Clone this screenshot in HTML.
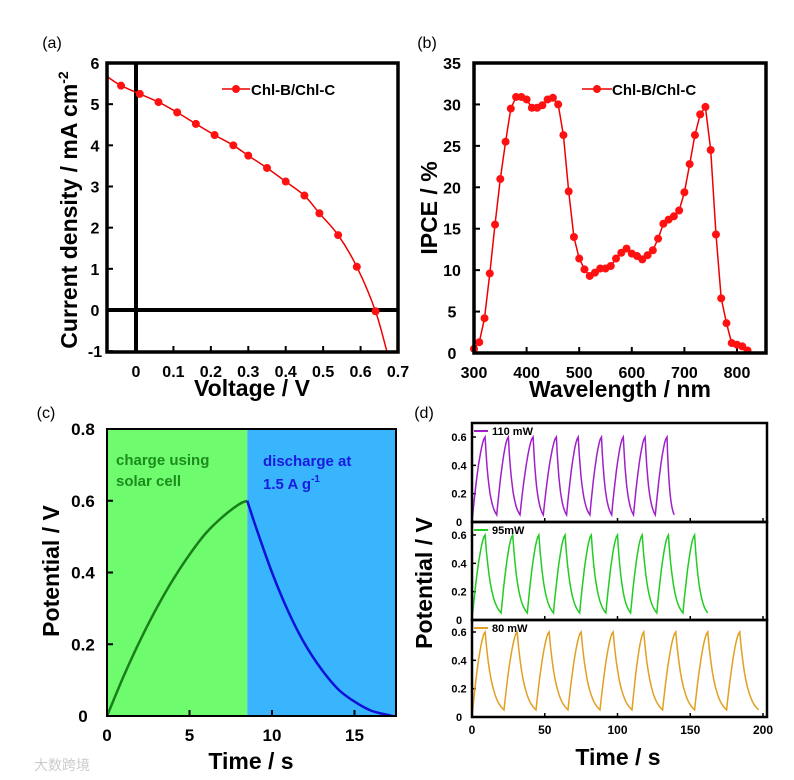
<!DOCTYPE html>
<html><head><meta charset="utf-8"><style>
body{margin:0;background:#fff;width:794px;height:780px;overflow:hidden}
svg{display:block;font-family:"Liberation Sans",Arial,sans-serif;font-weight:bold}
</style></head><body>
<svg id="fig" width="794" height="780" viewBox="0 0 794 780"></svg>
<script>
// ---- panel (a) data ----
const jvV=[-0.04,0.01,0.06,0.11,0.16,0.21,0.26,0.30,0.35,0.40,0.45,0.49,0.54,0.59,0.64];
const jvJ=[5.45,5.25,5.05,4.8,4.52,4.25,4.0,3.75,3.45,3.12,2.78,2.35,1.82,1.05,-0.03];
const jvTicksX=[0,0.1,0.2,0.3,0.4,0.5,0.6,0.7];
const jvTicksY=[-1,0,1,2,3,4,5,6];
// ---- panel (b) data ----
const wl=[300,310,320,330,340,350,360,370,380,390,400,410,420,430,440,450,460,470,480,490,500,510,520,530,540,550,560,570,580,590,600,610,620,630,640,650,660,670,680,690,700,710,720,730,740,750,760,770,780,790,800,810,820];
const ipce=[0.5,1.3,4.2,9.6,15.5,21,25.5,29.5,30.9,30.9,30.6,29.6,29.6,29.9,30.6,30.8,30,26.3,19.5,14,11.4,10.1,9.3,9.7,10.2,10.2,10.5,11.4,12.1,12.6,12,11.7,11.3,11.8,12.4,13.8,15.6,16.1,16.5,17.2,19.4,22.8,26.3,28.8,29.7,24.5,14.3,6.6,3.6,1.2,1.0,0.8,0.3];
const ipceTicksX=[300,400,500,600,700,800];
const ipceTicksY=[0,5,10,15,20,25,30,35];
// ---- panel (c) data ----
const chT=[0,1,2,3,4,5,6,7,8,8.5];
const chV=[0,0.11,0.21,0.30,0.38,0.45,0.51,0.555,0.59,0.60];
const dcT=[8.5,9,10,11,12,13,14,15,16,17,17.3];
const dcV=[0.6,0.53,0.40,0.29,0.20,0.13,0.075,0.04,0.015,0.003,0];
const cTicksX=[0,5,10,15];
const cTicksY=[0,0.2,0.4,0.6,0.8];
// ---- panel (d) data ----
const dLabels=["110 mW","95mW","80 mW"];
const dPeaks110=[9,25,42,58,73,89,104,119,134];
const dTroughs110=[17,33,49,65,81,96,111,126,139];
const dPeaks95=[9,28,46,64,82,100,117,135,153];
const dTroughs95=[20,38,56,74,92,109,127,145,162];
const dPeaks80=[9,31,53,75,97,118,140,162,184];
const dTroughs80=[22,44,66,88,110,131,153,175,197];
const dPeakV=0.6, dTroughV=0.05;
const dTicksX=[0,50,100,150,200];
const dTicksY=[0,0.2,0.4,0.6];

const NS="http://www.w3.org/2000/svg",svg=document.getElementById('fig');
function el(t,a,p){const e=document.createElementNS(NS,t);for(const k in a)e.setAttribute(k,a[k]);(p||svg).appendChild(e);return e;}
function txt(s,x,y,size,extra,p){const e=el('text',Object.assign({x:x,y:y,'font-size':size,'text-anchor':'middle'},extra||{}),p);e.textContent=s;return e;}
function lin(d0,d1,r0,r1){return v=>r0+(v-d0)/(d1-d0)*(r1-r0);}
function path(xs,ys,X,Y){return xs.map((v,i)=>(i?'L':'M')+X(v).toFixed(1)+','+Y(ys[i]).toFixed(1)).join('');}
function smooth(xs,ys,X,Y){const P=xs.map((v,i)=>[X(v),Y(ys[i])]);let d='M'+P[0][0].toFixed(1)+','+P[0][1].toFixed(1);
 for(let i=0;i<P.length-1;i++){const p0=P[i-1]||P[i],p1=P[i],p2=P[i+1],p3=P[i+2]||p2;
  const c1=[p1[0]+(p2[0]-p0[0])/6,p1[1]+(p2[1]-p0[1])/6],c2=[p2[0]-(p3[0]-p1[0])/6,p2[1]-(p3[1]-p1[1])/6];
  d+='C'+c1.map(n=>n.toFixed(1))+' '+c2.map(n=>n.toFixed(1))+' '+p2.map(n=>n.toFixed(1));}return d;}

// ===== (a) =====
{const g=el('g',{});
const L=107,R=398,T=63,B=352;const X=lin(0,0.7,136,398),Y=lin(0,6,310,63);
const cp=el('clipPath',{id:'ca'},g);el('rect',{x:L,y:T,width:R-L,height:B-T},cp);
jvTicksX.forEach(v=>{el('line',{x1:X(v),x2:X(v),y1:B,y2:B-6,stroke:'#000','stroke-width':2},g);const t=txt(String(v),X(v),B+25,16,{},g);});
jvTicksY.forEach(v=>{el('line',{x1:L,x2:L+6,y1:Y(v),y2:Y(v),stroke:'#000','stroke-width':2},g);const t=txt(String(v),L-12,Y(v)+6,16,{},g);});
el('line',{x1:X(0),x2:X(0),y1:T,y2:B,stroke:'#000','stroke-width':4},g);
el('line',{x1:L,x2:R,y1:Y(0),y2:Y(0),stroke:'#000','stroke-width':4},g);
const xs=[-0.077].concat(jvV,[0.67]),ys=[5.67].concat(jvJ,[-1]);
const ln=el('path',{d:smooth(xs,ys,X,Y),fill:'none',stroke:'#e00','stroke-width':1.5,'clip-path':'url(#ca)'},g);
jvV.forEach((v,i)=>{const c=el('circle',{cx:X(v),cy:Y(jvJ[i]),r:4,fill:'#f11'},g);});
el('rect',{x:L,y:T,width:R-L,height:B-T,fill:'none',stroke:'#000','stroke-width':3.5},g);
el('line',{x1:222,x2:250,y1:89,y2:89,stroke:'#e00','stroke-width':1.5},g);el('circle',{cx:236,cy:89,r:4,fill:'#f11'},g);
const lg=txt('Chl-B/Chl-C',251,95,15,{'text-anchor':'start'},g);
const xt=txt('Voltage / V',252,396,23,{},g);
const yt=txt('Current density / mA cm',0,0,23,{transform:'translate(77,210) rotate(-90)'},g);
const sp=el('tspan',{dy:-9,'font-size':14},yt);sp.textContent='-2';
const pl=txt('(a)',52,48,16,{'font-weight':'normal'},g);}

// ===== (b) =====
{const g=el('g',{});
const L=474,R=766,T=63,B=353;const X=lin(300,800,474,737),Y=lin(0,35,353,63);
ipceTicksX.forEach(v=>{el('line',{x1:X(v),x2:X(v),y1:B,y2:B-6,stroke:'#000','stroke-width':2},g);const t=txt(String(v),X(v),B+25,16,{},g);});
ipceTicksY.forEach(v=>{el('line',{x1:L,x2:L+6,y1:Y(v),y2:Y(v),stroke:'#000','stroke-width':2},g);const t=txt(String(v),L-22,Y(v)+6,16,{},g);});
const ln=el('path',{d:path(wl,ipce,X,Y),fill:'none',stroke:'#e00','stroke-width':1.5},g);
wl.forEach((v,i)=>{const c=el('circle',{cx:X(v),cy:Y(ipce[i]),r:4,fill:'#f11'},g);});
el('rect',{x:L,y:T,width:R-L,height:B-T,fill:'none',stroke:'#000','stroke-width':3.5},g);
el('line',{x1:582,x2:612,y1:89,y2:89,stroke:'#e00','stroke-width':1.5},g);el('circle',{cx:597,cy:89,r:4,fill:'#f11'},g);
const lg=txt('Chl-B/Chl-C',612,95,15,{'text-anchor':'start'},g);
const xt=txt('Wavelength / nm',620,397,23,{},g);
const yt=txt('IPCE / %',0,0,23,{transform:'translate(437,208) rotate(-90)'},g);
const pl=txt('(b)',427,48,16,{'font-weight':'normal'},g);}

// ===== (c) =====
{const g=el('g',{});
const L=107,R=396,T=429,B=716;const X=lin(0,5,107,189.5),Y=lin(0,0.8,716,429);
const split=chT[chT.length-1];
const gr=el('rect',{x:L,y:T,width:X(split)-L,height:B-T,fill:'#6efc6e'},g);
const bl=el('rect',{x:X(split),y:T,width:R-X(split),height:B-T,fill:'#38b5fc'},g);
cTicksX.forEach(v=>{el('line',{x1:X(v),x2:X(v),y1:B,y2:B-6,stroke:'#000','stroke-width':2},g);const t=txt(String(v),X(v),B+25,17,{},g);});
cTicksY.forEach(v=>{el('line',{x1:L,x2:L+6,y1:Y(v),y2:Y(v),stroke:'#000','stroke-width':2},g);const t=txt(v===0?'0':v.toFixed(1),L-24,Y(v)+6,17,{},g);});
const c1=el('path',{d:smooth(chT,chV,X,Y),fill:'none',stroke:'#1a7f1a','stroke-width':2.5},g);
const c2=el('path',{d:smooth(dcT,dcV,X,Y),fill:'none',stroke:'#1010d8','stroke-width':2.5},g);
el('rect',{x:L,y:T,width:R-L,height:B-T,fill:'none',stroke:'#000','stroke-width':2},g);
txt('charge using',116,465,15,{'text-anchor':'start',fill:'#1c8c1c'},g);txt('solar cell',116,486,15,{'text-anchor':'start',fill:'#1c8c1c'},g);
txt('discharge at',263,466,15,{'text-anchor':'start',fill:'#1a1ae0'},g);
const d2=txt('1.5 A g',263,489,15,{'text-anchor':'start',fill:'#1a1ae0'},g);const s2=el('tspan',{dy:-7,'font-size':10},d2);s2.textContent='-1';
const xt=txt('Time / s',251,769,23,{},g);
const yt=txt('Potential / V',0,0,23,{transform:'translate(59,571) rotate(-90)'},g);
const pl=txt('(c)',46,418,16,{'font-weight':'normal'},g);
txt('大数跨境',62,770,14,{fill:'#ccc','font-family':'"Noto Sans CJK SC",sans-serif','font-weight':'normal'},g);}

// ===== (d) =====
{const g=el('g',{});
const L=472,R=767,tops=[423,522,620],H=[99,98,97];const X=lin(0,200,472,763);
const peaks=[dPeaks110,dPeaks95,dPeaks80],troughs=[dTroughs110,dTroughs95,dTroughs80],cols=['#a020c8','#22cc22','#e0a020'];
peaks.forEach((pk,si)=>{const T=tops[si],B=T+H[si];const Y=lin(0,0.6,B,B-85);const tr=troughs[si];
 dTicksY.forEach(v=>{el('line',{x1:L,x2:L+4,y1:Y(v),y2:Y(v),stroke:'#000','stroke-width':1.5},g);txt(v===0?'0':v.toFixed(1),L-13,Y(v)+4,11,{},g);});
 dTicksX.forEach(v=>el('line',{x1:X(v),x2:X(v),y1:B,y2:B-4,stroke:'#000','stroke-width':1.5},g));
 let d='M'+X(0)+','+Y(0);let prev=0,pv=0;
 for(let i=0;i<pk.length;i++){const p=pk[i];
  for(let k=1;k<=10;k++){const f=k/10,t=prev+(p-prev)*f,v=pv+(dPeakV-pv)*(1-Math.pow(1-f,1.6));d+='L'+X(t).toFixed(1)+','+Y(v).toFixed(1);}
  const dur=tr[i]-p;
  for(let k=1;k<=12;k++){const f=k/12,t=p+dur*f,v=dTroughV+(dPeakV-dTroughV)*(Math.exp(-2.6*f)-Math.exp(-2.6))/(1-Math.exp(-2.6));d+='L'+X(t).toFixed(1)+','+Y(v).toFixed(1);}
  prev=tr[i];pv=dTroughV;}
 const ln=el('path',{d:d,fill:'none',stroke:cols[si],'stroke-width':1.5},g);
 el('rect',{x:L,y:T,width:R-L,height:H[si],fill:'none',stroke:'#000','stroke-width':2.5},g);
 el('line',{x1:L+2,x2:L+16,y1:T+8,y2:T+8,stroke:cols[si],'stroke-width':2},g);
 const lg=txt(dLabels[si],L+20,T+12,11,{'text-anchor':'start'},g);});
dTicksX.forEach(v=>{const t=txt(String(v),X(v),734,12,{},g);});
const xt=txt('Time / s',618,765,23,{},g);
const yt=txt('Potential / V',0,0,23,{transform:'translate(432,583) rotate(-90)'},g);
const pl=txt('(d)',424,418,16,{'font-weight':'normal'},g);}
</script>
</body></html>
